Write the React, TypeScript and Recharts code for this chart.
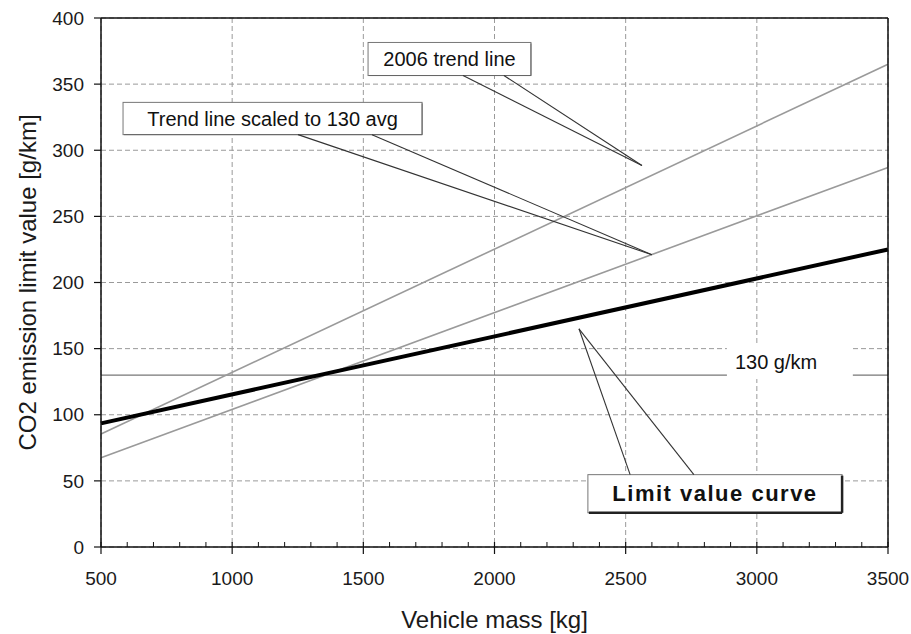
import React from 'react';
import {
  LineChart,
  Line,
  XAxis,
  YAxis,
  CartesianGrid,
  ReferenceLine,
  ReferenceArea,
  Label,
} from 'recharts';

// vehicle mass [kg] at both ends of the plotted range
const MASS = [500, 3500];
// CO2 limit values [g/km]
const TREND_2006 = [85.5, 365];
const TREND_SCALED = [67.5, 287];
const LIMIT_CURVE = [93.5, 225];
const TARGET = 130;

const X_TICKS = [500, 1000, 1500, 2000, 2500, 3000, 3500];
const X_MINOR_TICKS = Array.from({ length: 31 }, (_, i) => 500 + i * 100);
const Y_TICKS = [0, 50, 100, 150, 200, 250, 300, 350, 400];

const X_TITLE = 'Vehicle mass [kg]';
const Y_TITLE = 'CO2 emission limit value [g/km]';
const TARGET_LABEL = '130 g/km';

// callout boxes, in data units: [x1, x2, y1, y2], pointer base x's and tip
const CALLOUTS = [
  { text: '2006 trend line', box: [1518, 2139, 356.5, 381.5], base: [1880, 2036], baseY: 356.5, tip: [2562, 288.5], bold: false },
  { text: 'Trend line scaled to 130 avg', box: [584, 1724, 311.8, 336.2], base: [1251, 1533], baseY: 311.8, tip: [2600, 221], bold: false },
  { text: 'Limit value curve', box: [2356, 3325, 25.9, 54.7], base: [2517, 2760], baseY: 54.7, tip: [2322, 165], bold: true },
];
// white gap in the 130 g/km line that holds its label
const TARGET_GAP = [2886, 3366, 127, 152];

const FONT = '"Liberation Sans", Arial, sans-serif';

const data = MASS.map((m, i) => ({
  mass: m,
  trend2006: TREND_2006[i],
  trendScaled: TREND_SCALED[i],
  limit: LIMIT_CURVE[i],
}));

const calloutShape = (text: string, bold: boolean) => (props: any) => {
  const { x, y, width, height } = props;
  const shadow = bold ? 2.5 : 1;
  return (
    <g>
      <rect x={x} y={y} width={width} height={height} fill="#fff" stroke="#777" strokeWidth={1} />
      <line x1={x + 1} y1={y + height} x2={x + width} y2={y + height} stroke={bold ? '#222' : '#666'} strokeWidth={shadow} />
      <line x1={x + width} y1={y + 1} x2={x + width} y2={y + height} stroke={bold ? '#222' : '#666'} strokeWidth={shadow} />
      <text
        x={x + width / 2}
        y={y + height / 2}
        textAnchor="middle"
        dominantBaseline="central"
        fontFamily={FONT}
        fontSize={bold ? 22 : 20}
        fontWeight={bold ? 'bold' : 'normal'}
        letterSpacing={bold ? 1.5 : 0}
        fill="#111"
      >
        {text}
      </text>
    </g>
  );
};

const gapShape = (props: any) => {
  const { x, y, width, height } = props;
  return (
    <g>
      <rect x={x} y={y} width={width} height={height} fill="#fff" />
      <text x={x + 8} y={y + height / 2 - 1} dominantBaseline="central" fontFamily={FONT} fontSize={20} fill="#111">
        {TARGET_LABEL}
      </text>
    </g>
  );
};

// minor ticks point into the plot, major ticks cross the axis and carry a label
const MassTick = (props: any) => {
  const { x, y, payload } = props;
  const major = X_TICKS.includes(payload.value);
  return (
    <g>
      <line x1={x} x2={x} y1={y - 5} y2={major ? y + 7 : y} stroke="#111" strokeWidth={major ? 1.2 : 1} />
      {major && (
        <text x={x} y={y + 25} dy="0.71em" textAnchor="middle" fontFamily={FONT} fontSize={19} fill="#1a1a1a">
          {payload.value}
        </text>
      )}
    </g>
  );
};

export default function App() {
  const tickStyle = { fontSize: 19, fill: '#1a1a1a', fontFamily: FONT };
  return (
    <div style={{ position: 'absolute', left: 0, top: 0, background: '#fff' }}>
      <LineChart width={911} height={634} data={data} margin={{ top: 18, right: 23, left: 0, bottom: 0 }}>
        <CartesianGrid stroke="#9a9a9a" strokeDasharray="5 3" verticalValues={X_TICKS} horizontalValues={Y_TICKS} />
        <XAxis
          dataKey="mass"
          type="number"
          domain={[500, 3500]}
          ticks={X_MINOR_TICKS}
          interval={0}
          height={87}
          tickSize={0}
          tickMargin={0}
          tickLine={false}
          tick={MassTick}
          axisLine={{ stroke: '#111', strokeWidth: 1.5 }}
        >
          <Label value={X_TITLE} position="insideBottom" offset={6} style={{ fontSize: 24, fill: '#1a1a1a', fontFamily: FONT }} />
        </XAxis>
        <YAxis
          type="number"
          domain={[0, 400]}
          ticks={Y_TICKS}
          width={101}
          tickSize={7}
          tickMargin={10}
          tick={tickStyle}
          axisLine={{ stroke: '#111', strokeWidth: 1.5 }}
          tickLine={{ stroke: '#111', strokeWidth: 1.2 }}
        >
          <Label
            value={Y_TITLE}
            angle={-90}
            position="insideLeft"
            offset={27}
            style={{ fontSize: 24, fill: '#1a1a1a', fontFamily: FONT, textAnchor: 'middle' }}
          />
        </YAxis>

        <ReferenceArea x1={TARGET_GAP[0]} x2={TARGET_GAP[1]} y1={TARGET_GAP[2]} y2={TARGET_GAP[3]} shape={gapShape} />
        <ReferenceLine segment={[{ x: MASS[0], y: TARGET }, { x: TARGET_GAP[0], y: TARGET }]} stroke="#777" strokeWidth={1.2} />
        <ReferenceLine segment={[{ x: TARGET_GAP[1], y: TARGET }, { x: MASS[1], y: TARGET }]} stroke="#777" strokeWidth={1.2} />

        <Line dataKey="trend2006" stroke="#9a9a9a" strokeWidth={1.6} dot={false} isAnimationActive={false} />
        <Line dataKey="trendScaled" stroke="#9a9a9a" strokeWidth={1.6} dot={false} isAnimationActive={false} />
        <Line dataKey="limit" stroke="#000" strokeWidth={4} dot={false} isAnimationActive={false} />

        {CALLOUTS.map((c) => (
          <ReferenceArea
            key={c.text}
            x1={c.box[0]}
            x2={c.box[1]}
            y1={c.box[2]}
            y2={c.box[3]}
            shape={calloutShape(c.text, c.bold)}
          />
        ))}
        {CALLOUTS.flatMap((c) =>
          c.base.map((bx) => (
            <ReferenceLine
              key={c.text + bx}
              segment={[{ x: bx, y: c.baseY }, { x: c.tip[0], y: c.tip[1] }]}
              stroke="#333"
              strokeWidth={1.1}
            />
          ))
        )}

        <ReferenceLine y={400} stroke="#111" strokeWidth={1.5} />
        <ReferenceLine x={3500} stroke="#111" strokeWidth={1.5} />
      </LineChart>
    </div>
  );
}
